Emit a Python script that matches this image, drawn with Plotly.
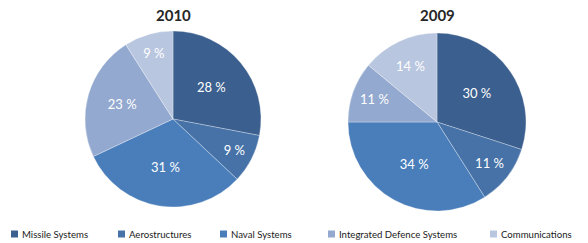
import plotly.graph_objects as go

categories = ["Missile Systems", "Aerostructures", "Naval Systems", "Integrated Defence Systems", "Communications"]
values_2010 = [28, 9, 31, 23, 9]
values_2009 = [30, 11, 34, 11, 14]
colors = ["#3B5F8E", "#4672A8", "#4A7EBB", "#93A9CF", "#B9C6DF"]

W, H = 588, 243

def px_dom(x0, x1, y0, y1):
    return dict(x=[x0 / W, x1 / W], y=[1 - y1 / H, 1 - y0 / H])

fig = go.Figure()
for vals, dom in [(values_2010, px_dom(85, 261, 31, 207)),
                  (values_2009, px_dom(348, 526, 33, 211))]:
    fig.add_trace(go.Pie(
        labels=categories, values=vals, sort=False, direction="clockwise", rotation=0,
        marker=dict(colors=colors, line=dict(color="rgba(255,255,255,0.5)", width=0.6)),
        texttemplate="%{value} %", textposition="inside", insidetextorientation="horizontal",
        textfont=dict(color="white", size=13, family="Lato"),
        domain=dom, showlegend=False, hoverinfo="label+value",
    ))

for txt, x, y in [("2010", 173, 15), ("2009", 437, 15)]:
    fig.add_annotation(text="<b>%s</b>" % txt, x=x / W, y=1 - y / H, xref="paper", yref="paper",
                       showarrow=False, font=dict(size=15, color="#262626", family="Lato"),
                       xanchor="center", yanchor="middle")

# legend drawn as squares + text labels
legend_x = [11, 118, 220, 328, 490]
ly = 234
for cat, col, lx in zip(categories, colors, legend_x):
    fig.add_shape(type="rect", xref="paper", yref="paper",
                  x0=lx / W, x1=(lx + 7) / W, y0=1 - (ly + 3.5) / H, y1=1 - (ly - 3.5) / H,
                  fillcolor=col, line=dict(width=0))
    fig.add_annotation(text=cat, x=(lx + 9) / W, y=1 - ly / H, xref="paper", yref="paper",
                       showarrow=False, xanchor="left", yanchor="middle",
                       font=dict(size=9.6, family="Lato", color="#1a1a1a"))

fig.update_layout(
    width=W, height=H, margin=dict(l=0, r=0, t=0, b=0),
    paper_bgcolor="white", plot_bgcolor="white",
)
fig.write_html("out.html", config={"displayModeBar": False},
               post_script="document.body.style.margin='0';document.body.style.overflow='hidden';")
